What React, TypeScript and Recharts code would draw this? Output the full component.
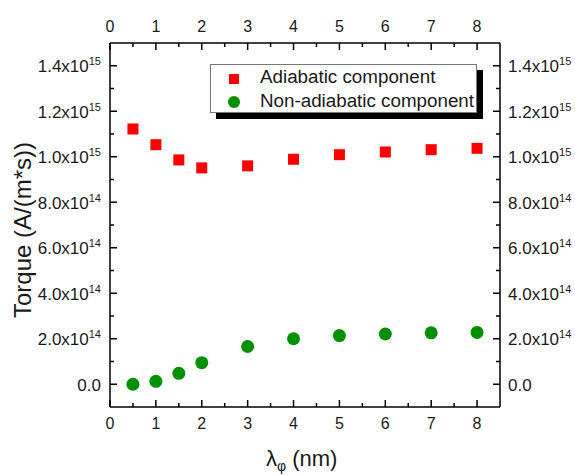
import { ScatterChart, Scatter, XAxis, YAxis, Label } from "recharts";

const lambda = [0.5, 1, 1.5, 2, 3, 4, 5, 6, 7, 8];
const adiabatic = [1.122e15, 1.053e15, 0.986e15, 0.951e15, 0.96e15, 0.989e15, 1.009e15, 1.021e15, 1.031e15, 1.037e15];
const nonAdiabatic = [0.0, 0.013e15, 0.048e15, 0.095e15, 0.166e15, 0.2e15, 0.214e15, 0.221e15, 0.226e15, 0.228e15];

const xTicks = Array.from({ length: 17 }, (_, i) => i * 0.5);
const yTicks = Array.from({ length: 15 }, (_, i) => i * 1e14);

const adiabaticData = lambda.map((x, i) => ({ x, y: adiabatic[i] }));
const nonAdiabaticData = lambda.map((x, i) => ({ x, y: nonAdiabatic[i] }));

const FONT = "'Liberation Sans', Arial, sans-serif";
const INK = "#1a1a1a";

const isMajorY = (v: number) => Math.round(v / 1e14) % 2 === 0;
const isMajorX = (v: number) => Math.abs(v - Math.round(v)) < 1e-6;

function yLabel(v: number) {
  if (Math.abs(v) < 1) return { mant: "0.0", exp: "" };
  const exp = Math.floor(Math.log10(v) + 1e-9);
  const mant = (v / Math.pow(10, exp)).toFixed(1);
  return { mant: mant + "x10", exp: String(exp) };
}

const TickText = ({ x, y, anchor, v }: any) => {
  const { mant, exp } = yLabel(v);
  return (
    <text x={x} y={y} textAnchor={anchor} fontFamily={FONT} fontSize={17} fill={INK}>
      {mant}
      {exp && (
        <tspan fontSize={11} dy={-7}>
          {exp}
        </tspan>
      )}
    </text>
  );
};

const LeftTick = ({ x, y, payload }: any) => {
  const v = payload.value;
  const major = isMajorY(v);
  return (
    <g>
      <line x1={x} y1={y} x2={x + (major ? 7 : 4)} y2={y} stroke="#000" strokeWidth={1.5} />
      {major && <TickText x={x - 9} y={y + 6.5} anchor="end" v={v} />}
    </g>
  );
};

const RightTick = ({ x, y, payload }: any) => {
  const v = payload.value;
  const major = isMajorY(v);
  return (
    <g>
      <line x1={x} y1={y} x2={x - (major ? 7 : 4)} y2={y} stroke="#000" strokeWidth={1.5} />
      {major && <TickText x={x + 8} y={y + 6.5} anchor="start" v={v} />}
    </g>
  );
};

const BottomTick = ({ x, y, payload }: any) => {
  const v = payload.value;
  const major = isMajorX(v);
  return (
    <g>
      <line x1={x} y1={y} x2={x} y2={y - (major ? 7 : 4)} stroke="#000" strokeWidth={1.5} />
      {major && (
        <text x={x} y={y + 22} textAnchor="middle" fontFamily={FONT} fontSize={16} fill={INK}>
          {Math.round(v)}
        </text>
      )}
    </g>
  );
};

const TopTick = ({ x, y, payload }: any) => {
  const v = payload.value;
  const major = isMajorX(v);
  return (
    <g>
      <line x1={x} y1={y} x2={x} y2={y + (major ? 7 : 4)} stroke="#000" strokeWidth={1.5} />
      {major && (
        <text x={x} y={y - 11} textAnchor="middle" fontFamily={FONT} fontSize={16} fill={INK}>
          {Math.round(v)}
        </text>
      )}
    </g>
  );
};

const Square = ({ cx, cy }: any) => <rect x={cx - 5.5} y={cy - 5.5} width={11} height={11} fill="#ff0000" />;
const Dot = ({ cx, cy }: any) => <circle cx={cx} cy={cy} r={6.5} fill="#009000" />;

const LegendBox = () => (
  <div
    style={{
      position: "absolute",
      left: 210,
      top: 64,
      width: 274,
      height: 56,
      fontFamily: FONT,
      fontSize: 18.8,
      color: INK,
      pointerEvents: "none",
    }}
  >
    <div style={{ position: "absolute", left: 6, top: 6, width: 267, height: 49, background: "#000" }} />
    <div
      style={{
        position: "absolute",
        left: 0,
        top: 0,
        width: 265,
        height: 47,
        background: "#fff",
        border: "1px solid #777",
      }}
    >
      <div style={{ position: "absolute", left: 18, top: 9, width: 10, height: 10, background: "#ff0000" }} />
      <div style={{ position: "absolute", left: 49, top: 2, whiteSpace: "nowrap", lineHeight: "20px" }}>
        Adiabatic component
      </div>
      <div style={{ position: "absolute", left: 17, top: 31, width: 12, height: 12, borderRadius: 6, background: "#009000" }} />
      <div style={{ position: "absolute", left: 49, top: 26, whiteSpace: "nowrap", lineHeight: "20px" }}>
        Non-adiabatic component
      </div>
    </div>
  </div>
);

const XTitle = () => (
  <text x={266} y={466} textAnchor="start" fontFamily={FONT} fontSize={22} fill={INK}>
    λ<tspan fontSize={14} dy={5}>φ</tspan>
    <tspan dy={-5}> (nm)</tspan>
  </text>
);

const YTitle = ({ viewBox }: any) => {
  const cy = viewBox.y + viewBox.height / 2 + 5;
  return (
    <text
      x={31}
      y={cy}
      transform={`rotate(-90 31 ${cy})`}
      textAnchor="middle"
      fontFamily={FONT}
      fontSize={24}
      fill={INK}
    >
      Torque (A/(m*s))
    </text>
  );
};

export default function App() {
  return (
    <div style={{ position: "absolute", left: 0, top: 0, width: 575, height: 475, background: "#fff" }}>
      <ScatterChart width={575} height={475} margin={{ top: 0, right: 0, bottom: 0, left: 0 }}>
        <XAxis
          xAxisId="bottom"
          type="number"
          dataKey="x"
          orientation="bottom"
          domain={[0, 8.5]}
          ticks={xTicks}
          interval={0}
          height={68}
          tickSize={0}
          tickMargin={0}
          tickLine={false}
          tick={<BottomTick />}
          axisLine={{ stroke: "#000", strokeWidth: 1.5 }}
          allowDataOverflow
        >
          <Label content={<XTitle />} />
        </XAxis>
        <XAxis
          xAxisId="top"
          type="number"
          dataKey="x"
          orientation="top"
          domain={[0, 8.5]}
          ticks={xTicks}
          interval={0}
          height={43}
          tickSize={0}
          tickMargin={0}
          tickLine={false}
          tick={<TopTick />}
          axisLine={{ stroke: "#000", strokeWidth: 1.5 }}
          allowDataOverflow
        />
        <YAxis
          yAxisId="left"
          type="number"
          dataKey="y"
          orientation="left"
          domain={[-1e14, 1.5e15]}
          ticks={yTicks}
          interval={0}
          width={110}
          tickSize={0}
          tickMargin={0}
          tickLine={false}
          tick={<LeftTick />}
          axisLine={{ stroke: "#000", strokeWidth: 1.5 }}
          allowDataOverflow
        >
          <Label content={<YTitle />} />
        </YAxis>
        <YAxis
          yAxisId="right"
          type="number"
          dataKey="y"
          orientation="right"
          domain={[-1e14, 1.5e15]}
          ticks={yTicks}
          interval={0}
          width={75}
          tickSize={0}
          tickMargin={0}
          tickLine={false}
          tick={<RightTick />}
          axisLine={{ stroke: "#000", strokeWidth: 1.5 }}
          allowDataOverflow
        />
        <Scatter
          name="Adiabatic component"
          data={adiabaticData}
          xAxisId="bottom"
          yAxisId="left"
          shape={<Square />}
          isAnimationActive={false}
        />
        <Scatter
          name="Non-adiabatic component"
          data={nonAdiabaticData}
          xAxisId="bottom"
          yAxisId="left"
          shape={<Dot />}
          isAnimationActive={false}
        />
      </ScatterChart>
      <LegendBox />
    </div>
  );
}
